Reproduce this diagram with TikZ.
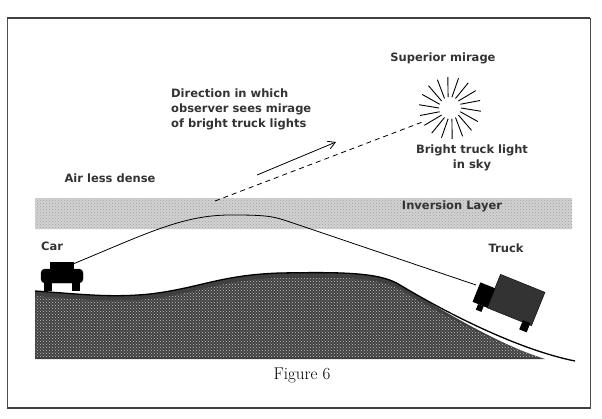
\documentclass[tikz,border=0pt]{standalone}
\usepackage{fontspec}
\setsansfont{DejaVu Sans}
\usetikzlibrary{patterns,arrows.meta,calc}
\begin{document}
\begin{tikzpicture}[x=1pt,y=-1pt,
  lbl/.style={font=\sffamily\bfseries\fontsize{11.5}{15}\selectfont, inner sep=1pt, text=black!80},
  ray/.style={line width=0.8pt}]
\useasboundingbox (0,0) rectangle (602,418);
% frame
\draw[line width=0.7pt,gray!60!black] (7,18) rectangle (590,408);
\draw[line width=2pt,gray!50!black] (7,18) -- (590,18);
\draw[line width=2pt,gray!50!black] (7,408) -- (590,408);
% inversion layer
\fill[gray!35] (35,198) rectangle (572,229);
\fill[pattern=crosshatch dots, pattern color=gray!75] (35,198) rectangle (572,229);
% ground
\fill[black!75] (35,291) .. controls (80,294) and (110,298) .. (150,294)
  .. controls (200,288) and (220,275) .. (280,273)
  .. controls (340,272) and (380,272) .. (400,285)
  .. controls (450,315) and (500,345) .. (545,359) -- (35,359) -- cycle;
\fill[pattern=crosshatch dots, pattern color=gray!45] (35,296) .. controls (80,299) and (110,303) .. (150,299)
  .. controls (200,293) and (220,280) .. (280,278)
  .. controls (340,277) and (380,277) .. (400,290)
  .. controls (450,319) and (500,345) .. (540,357) -- (35,357) -- cycle;
\draw[line width=1.3pt] (35,291) .. controls (80,294) and (110,298) .. (150,294)
  .. controls (200,288) and (220,275) .. (280,273)
  .. controls (340,272) and (380,272) .. (400,285)
  .. controls (450,315) and (520,350) .. (575,361);
% car
\coordinate (carfront) at (73,264);
\node[draw, fill=black, rounded corners=4pt, minimum width=42pt, minimum height=14pt, inner sep=0] (car) at (62,276) {};
\fill[black] (50,262) rectangle (74,272);
\fill[black] (44,282) rectangle (52,291);
\fill[black] (72,282) rectangle (80,291);
% truck
\node[draw=black, fill=black!80, minimum width=48pt, minimum height=36pt, inner sep=0, rotate=-22] (truck) at (516,300) {};
\fill[black, rotate around={-22:(485,295)}] (476,285) rectangle (492,306);
\fill[black, rotate around={-22:(485,295)}] (482,306) rectangle (488,312);
\fill[black, rotate around={-22:(516,300)}] (530,316) rectangle (538,326);
\coordinate (truckfront) at (476,285);
% ray car to truck
\draw[ray] (carfront) .. controls (150,232) and (185,214) .. (235,215)
  .. controls (270,215) and (275,217) .. (290,222) -- (truckfront);
% dashed sight line
\coordinate (peak) at (215,201);
\node (sun) at (450,108) {};
\draw[ray, dashed, dash pattern=on 5pt off 4pt] (peak) -- (425,121);
\coordinate (as) at (257,175);
\coordinate (ae) at (336,142);
\draw[ray, -{Straight Barb[length=7pt,width=8pt]}] (as) -- (ae);
% sun rays
\foreach \a in {0,20,...,340} {
  \draw[line width=0.9pt] ($(450,108)+(\a:11)$) -- ($(450,108)+(\a+6:31)$);
}
% labels
\node[lbl] (sup) at (443,58) {Superior mirage};
\node[lbl, align=center] (btl) at (472,158) {Bright truck light\\in sky};
\node[lbl, align=left, anchor=north west] (dir) at (170,88) {Direction in which\\observer sees mirage\\of bright truck lights};
\node[lbl] (air) at (110,178) {Air less dense};
\node[lbl] (inv) at (452,206) {Inversion Layer};
\node[lbl] (carl) at (52,246) {Car};
\node[lbl] (truckl) at (506,248) {Truck};
\node[font=\rmfamily\fontsize{17}{20}\selectfont] (fig) at (302,375) {Figure 6};
\end{tikzpicture}
\end{document}
